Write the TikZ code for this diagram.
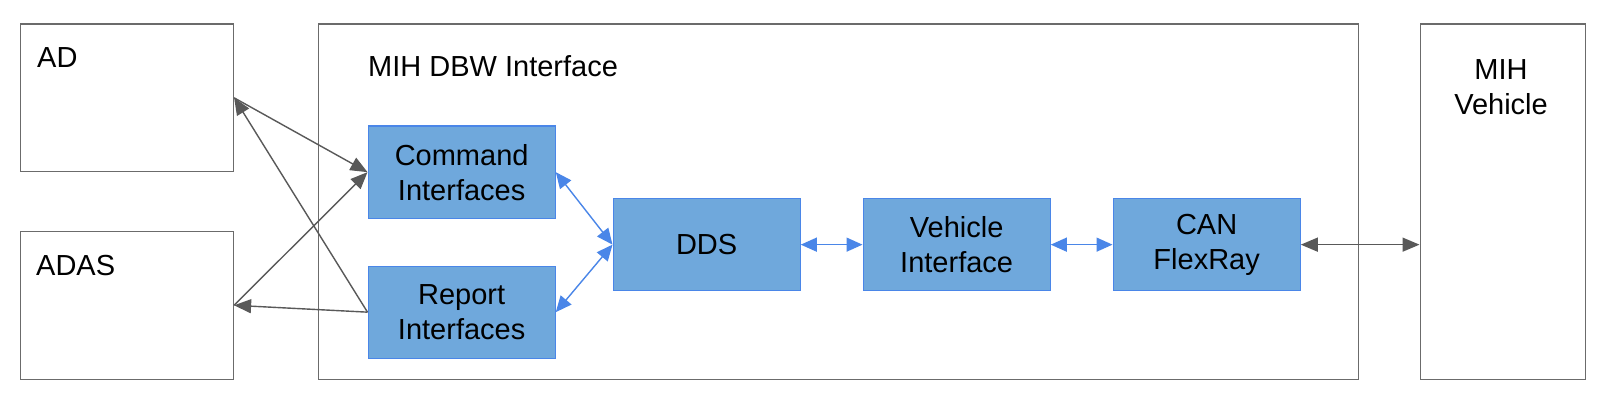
\documentclass[tikz,border=0pt]{standalone}
\usepackage{fontspec}
\setmainfont{Liberation Sans}
\usetikzlibrary{arrows.meta}
\definecolor{boxgray}{HTML}{6B6B6B}
\definecolor{arrgray}{HTML}{595959}
\definecolor{bluefill}{HTML}{6FA8DC}
\definecolor{blueline}{HTML}{4A86E8}
\tikzset{
  outerbox/.style={draw=boxgray, line width=1.6pt, fill=white, inner sep=0pt, anchor=north west},
  bluebox/.style={draw=blueline, line width=1.3pt, fill=bluefill, inner sep=0pt, anchor=north west,
     minimum width=187pt, minimum height=92pt, align=center, text=black},
  lbl/.style={inner sep=0pt, anchor=base west, text=black},
  ghead/.tip={Triangle[length=17pt,width=14pt]},
  bhead/.tip={Triangle[length=16pt,width=14pt]},
  grayarr/.style={draw=arrgray, line width=1.4pt, -ghead},
  grayarr2/.style={draw=arrgray, line width=1.4pt, ghead-ghead},
  bluearr2/.style={draw=blueline, line width=1.4pt, bhead-bhead},
}
\begin{document}
\begin{tikzpicture}[x=1pt,y=-1pt, font=\fontsize{29}{35}\selectfont]
\useasboundingbox[fill=white] (0,0) rectangle (1600,401);
% outer boxes
\node[outerbox, minimum width=213pt, minimum height=147pt] (ad) at (19.5,23.5) {};
\node[outerbox, minimum width=213pt, minimum height=148pt] (adas) at (19.5,230.5) {};
\node[outerbox, minimum width=1040pt, minimum height=355pt] (dbw) at (317.5,23.5) {};
\node[outerbox, minimum width=165pt, minimum height=355pt] (veh) at (1419.5,23.5) {};
% labels
\node[lbl] (adt) at (37,68) {AD};
\node[lbl] (adast) at (36,275) {ADAS};
\node[lbl] (dbwt) at (368,77) {MIH DBW Interface};
\node[inner sep=0pt, anchor=base, align=center, text=black] (veht) at (1501,114) {MIH\\Vehicle};
% blue boxes
\node[bluebox] (cmd) at (367.5,125.5) {Command\\Interfaces};
\node[bluebox] (rep) at (367.5,265.5) {Report\\Interfaces};
\node[bluebox] (dds) at (612.5,198) {DDS};
\node[bluebox] (vif) at (862.5,198) {Vehicle\\Interface};
\node[bluebox] (can) at (1112.5,198) {CAN\\FlexRay};
% gray arrows
\draw[grayarr] (ad.east) -- (cmd.west);
\draw[grayarr] (adas.east) -- (cmd.west);
\draw[grayarr] (rep.west) -- (ad.east);
\draw[grayarr] (rep.west) -- (adas.east);
\draw[grayarr2] (can.east) -- (veh.west |- can.east);
% blue arrows
\draw[bluearr2] (cmd.east) -- (dds.west);
\draw[bluearr2] (rep.east) -- (dds.west);
\draw[bluearr2] (dds.east) -- (vif.west);
\draw[bluearr2] (vif.east) -- (can.west);
\end{tikzpicture}
\end{document}
